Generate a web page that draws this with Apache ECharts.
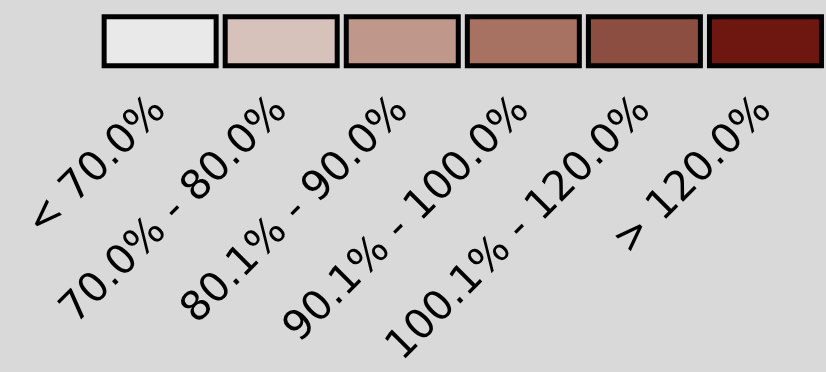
<!DOCTYPE html>
<html>
<head>
<meta charset="utf-8">
<title>legend</title>
<script src="https://cdn.jsdelivr.net/npm/echarts@6/dist/echarts.min.js"></script>
<style>
  html, body { margin: 0; padding: 0; background: #d9d9d9; }
  #chart { width: 826px; height: 372px; }
</style>
</head>
<body>
<div id="chart"></div>
<script>
// 区间标签
const categories = ["< 70.0%", "70.0% - 80.0%", "80.1% - 90.0%", "90.1% - 100.0%", "100.1% - 120.0%", "> 120.0%"];
// 每个色块的高度（统一为1）
const values = [1, 1, 1, 1, 1, 1];
// 色块颜色
const colorList = ["#e9e9e9", "#d6c1bb", "#c0978b", "#a77262", "#8c4e40", "#6e1610"];

const chart = echarts.init(document.getElementById("chart"));

const option = {
  backgroundColor: "#d9d9d9",
  animation: false,
  grid: {
    left: 99.6,
    top: 14.2,
    width: 742.5,
    height: 54
  },
  xAxis: {
    type: "category",
    data: categories,
    axisLine: { show: false },
    axisTick: { show: false },
    splitLine: { show: false },
    axisLabel: {
      interval: 0,
      rotate: 45,
      margin: 36,
      color: "#000",
      fontFamily: "DejaVu Sans",
      fontSize: 41
    }
  },
  yAxis: {
    type: "value",
    min: 0,
    max: 1,
    show: false
  },
  series: [
    {
      type: "bar",
      barWidth: 117,
      data: values.map((v, i) => ({
        value: v,
        itemStyle: { color: colorList[i] }
      })),
      itemStyle: {
        borderColor: "#000",
        borderWidth: 5
      }
    }
  ]
};
chart.setOption(option);
</script>
</body>
</html>
